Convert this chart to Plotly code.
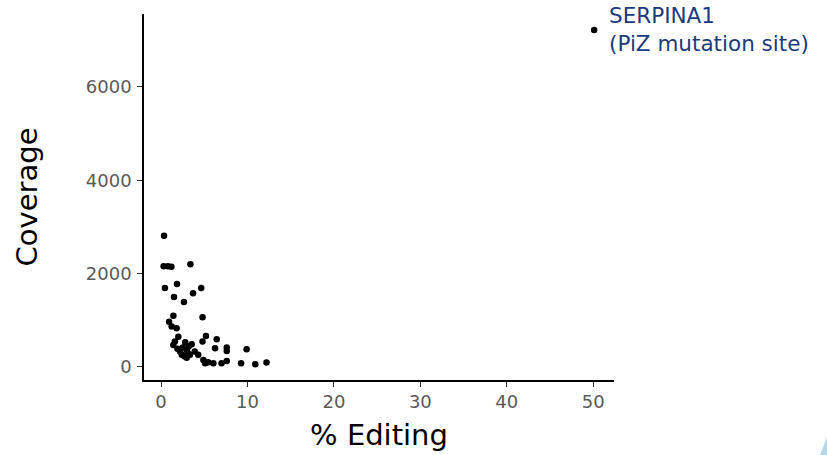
import plotly.graph_objects as go

# % editing and coverage per site
editing = [0.35, 0.3, 0.8, 1.2, 3.4, 0.45, 1.85, 4.65, 3.7, 1.5, 2.65,
           1.43, 4.8, 0.93, 1.23, 1.8, 2.0, 5.2, 6.44, 1.6, 2.8, 3.55,
           4.8, 1.43, 6.25, 7.6, 9.9, 2.2, 2.97, 3.9, 7.6, 2.4, 3.35,
           4.3, 2.97, 4.9, 5.1, 6.05, 7.0, 7.6, 9.26, 10.9, 12.2, 5.45,
           2.5, 3.1, 1.9, 2.7, 3.2]
coverage = [2810, 2160, 2160, 2150, 2200, 1690, 1780, 1690, 1580, 1500, 1390,
            1100, 1065, 970, 865, 830, 650, 665, 595, 545, 530, 485,
            545, 470, 400, 415, 380, 330, 365, 330, 345, 260, 260,
            260, 200, 150, 80, 80, 80, 130, 80, 60, 95, 100,
            420, 300, 390, 230, 440]

highlight_x = [50.1]
highlight_y = [7220]
highlight_label = "SERPINA1<br>(PiZ mutation site)"

x_ticks = [0, 10, 20, 30, 40, 50]
y_ticks = [0, 2000, 4000, 6000]

fig = go.Figure()
fig.add_trace(go.Scatter(x=editing, y=coverage, mode="markers",
                         marker=dict(color="black", size=6.5), showlegend=False))
fig.add_trace(go.Scatter(x=highlight_x, y=highlight_y, mode="markers",
                         marker=dict(color="black", size=6.5), showlegend=False))

fig.add_annotation(x=highlight_x[0], y=highlight_y[0], text=highlight_label,
                   showarrow=False, xanchor="left", yanchor="middle", align="left",
                   xshift=13, yshift=1,
                   font=dict(family="DejaVu Sans", size=21.5, color="#1b3b7c"))

# decorative corner triangle
fig.add_shape(type="path", xref="paper", yref="paper",
              path="M 1.4521 -0.1585 L 1.4383 -0.2049 L 1.4596 -0.2049 L 1.4596 -0.1585 Z",
              fillcolor="#b5d8e6", line=dict(width=0), layer="above")

axis_common = dict(showgrid=False, zeroline=False, showline=True, linecolor="black",
                   linewidth=1.5, ticks="outside", ticklen=5, tickwidth=1.2,
                   tickcolor="#333333",
                   tickfont=dict(family="DejaVu Sans", size=18, color="#5a5a5a"),
                   title_font=dict(family="DejaVu Sans", size=29, color="black"))

fig.update_xaxes(range=[-1.97, 52.4], tickvals=x_ticks, title_text="% Editing",
                 title_standoff=13, **axis_common)
fig.update_yaxes(range=[-279, 7564], tickvals=y_ticks, title_text="Coverage",
                 title_standoff=40, ticklabelstandoff=2, **axis_common)

fig.update_layout(width=827, height=455, plot_bgcolor="white", paper_bgcolor="white",
                  margin=dict(l=144, r=213, t=14, b=75, autoexpand=False),
                  font=dict(family="DejaVu Sans"))

fig.write_html("out.html", config={"displayModeBar": False},
               post_script="document.body.style.margin='0';document.body.style.overflow='hidden';")
